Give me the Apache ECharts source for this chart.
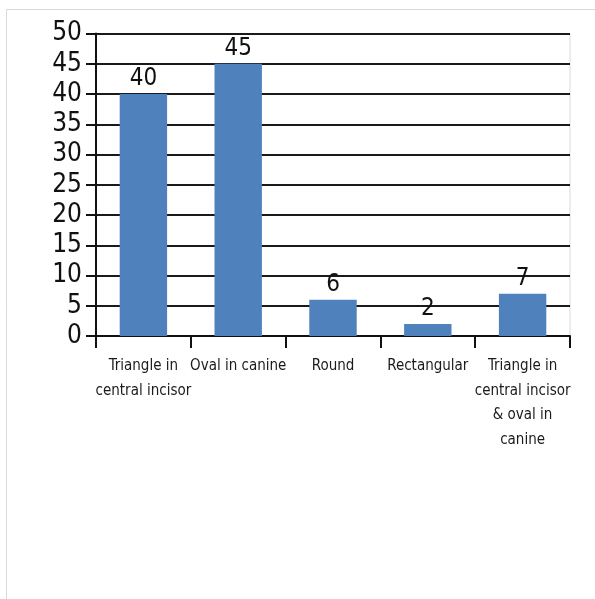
<!DOCTYPE html>
<html>
<head>
<meta charset="utf-8">
<script src="https://cdn.jsdelivr.net/npm/echarts@6/dist/echarts.min.js"></script>
<style>
  html, body { margin: 0; padding: 0; background: #fff; }
  #chart { width: 595px; height: 599px; }
</style>
</head>
<body>
<div id="chart"></div>
<script>
// Shape categories and their counts
const categories = [
  'Triangle in\ncentral incisor',
  'Oval in canine',
  'Round',
  'Rectangular',
  'Triangle in\ncentral incisor\n& oval in\ncanine'
];
const counts = [40, 45, 6, 2, 7];

const FONT = '"DejaVu Sans Condensed", Roboto, sans-serif';

const chart = echarts.init(document.getElementById('chart'), null, { renderer: 'canvas' });

chart.setOption({
  animation: false,
  backgroundColor: '#ffffff',
  graphic: [{
    type: 'rect',
    shape: { x: 6.5, y: 9.5, width: 600, height: 600 },
    style: { fill: 'none', stroke: '#d9d9d9', lineWidth: 1 },
    silent: true
  }],
  grid: {
    left: 96, right: 25, top: 33.5, bottom: 263,
    show: true, borderColor: '#d9d9d9', borderWidth: 1,
    containLabel: false
  },
  xAxis: {
    type: 'category',
    data: categories,
    axisLine: { lineStyle: { color: '#111', width: 2 } },
    axisTick: { show: true, length: 12, lineStyle: { color: '#111', width: 2 } },
    axisLabel: {
      margin: 18, fontSize: 15, lineHeight: 24.5, color: '#1a1a1a',
      fontFamily: FONT, interval: 0
    }
  },
  yAxis: {
    type: 'value',
    min: 0, max: 50, interval: 5,
    axisLine: { show: true, lineStyle: { color: '#111', width: 2 } },
    axisTick: { show: true, length: 10, lineStyle: { color: '#111', width: 2 } },
    axisLabel: { margin: 14, fontSize: 26, color: '#111', fontFamily: FONT },
    splitLine: { show: true, lineStyle: { color: '#1a1a1a', width: 2 } }
  },
  series: [{
    type: 'bar',
    data: counts,
    barWidth: '50%',
    itemStyle: { color: '#4f81bd' },
    label: {
      show: true, position: 'top', distance: 3,
      fontSize: 24, color: '#111', fontFamily: FONT
    }
  }]
});
</script>
</body>
</html>
